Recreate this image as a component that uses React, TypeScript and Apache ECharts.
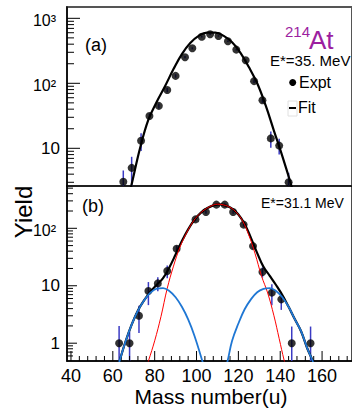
import React, { useEffect, useRef } from "react";
import * as echarts from "echarts";

const FONT = "'Liberation Sans', Arial, Helvetica, sans-serif";

// ---- axes ----
const xMin = 38.1;
const xMax = 174.3;
const xLabelValues = [40, 60, 80, 100, 120, 140, 160];
const xMajorTicks = [40, 60, 80, 100, 120, 140, 160];
const xMinorTicks = [44, 48, 52, 56, 64, 68, 72, 76, 84, 88, 92, 96, 104, 108, 112, 116, 124, 128, 132, 136, 144, 148, 152, 156, 164, 168, 172];

const yMinA = 2.63;
const yMaxA = 1493;
const yLabelsA = [10, 100, 1000];
const yMinorA = [3, 4, 5, 6, 7, 8, 9, 20, 30, 40, 50, 60, 70, 80, 90, 200, 300, 400, 500, 600, 700, 800, 900];

const yMinB = 0.49;
const yMaxB = 545;
const yLabelsB = [1, 10, 100];
const yMinorB = [0.6, 0.7, 0.8, 0.9, 2, 3, 4, 5, 6, 7, 8, 9, 20, 30, 40, 50, 60, 70, 80, 90, 200, 300, 400, 500];

// ---- panel (a) : E*=35 MeV ----
const massA = [65, 69, 73.5, 77.5, 82, 86, 90, 94.5, 98, 102.5, 106.5, 110.5, 115, 119, 123.5, 127.5, 131.5, 135.5, 139.5, 144];
const yieldA = [3.06, 5.0, 13.1, 31.4, 45, 79, 130, 252, 346, 520, 568, 535, 443, 330, 227, 108, 55, 14.2, 11, 3.0];
const errA = [1.5, 2.4, 4, 3, 4, 6, 8, 10, 12, 15, 14, 13, 12, 10, 8, 7, 5, 4, 3, 1.2];
const fitAx = [67.5, 69, 73, 77, 81, 85, 89, 93, 97, 101, 105, 109, 113, 117, 121, 125, 129, 133, 137, 141, 145, 146.5];
const fitAy = [1.8, 2.8, 10, 27.5, 52, 91, 166, 282, 417, 537, 603, 603, 537, 427, 295, 178, 100, 46, 18.6, 7.6, 2.9, 1.9];

// ---- panel (b) : E*=31.1 MeV ----
const massB = [63, 68, 72.5, 77, 81.5, 86, 90.5, 99.5, 104.5, 109.5, 113.5, 117.5, 122.5, 127, 131.5, 136, 140.5, 145.5, 154.5];
const yieldB = [1, 1, 3, 8.1, 11, 18, 44, 143, 192, 258, 258, 192, 116, 49, 17.4, 7.6, 5.8, 1, 1];
const errB = [1.0, 0.6, 1.5, 3.5, 3, 4.5, 6, 10, 12, 14, 14, 12, 9, 5, 3.5, 3, 2, 0.95, 0.95];

const totalBx = [62.5, 63.3, 66, 69, 72, 75, 78, 81, 84, 87, 90, 93, 96, 99, 102, 105, 108, 111, 114, 117, 120, 123, 126, 129, 132, 135, 138, 141, 144, 147, 150, 153, 155.4, 156.3];
const totalBy = [0.39, 0.5, 1.05, 2.1, 3.7, 5.6, 7.9, 10.4, 13.6, 20.8, 35, 60, 96, 141, 186, 223, 251, 261, 248, 220, 174, 119, 68, 37, 21.3, 14.9, 10.3, 6.9, 4.3, 2.6, 1.6, 0.8, 0.5, 0.38];

const symBx = [76.2, 77.1, 80, 83, 86, 89, 92, 95, 98, 101, 104, 107, 110, 113, 116, 119, 122, 125, 128, 131, 134, 137, 139.5, 141.9, 142.8];
const symBy = [0.4, 0.5, 1.1, 2.9, 9, 22, 46, 80, 125, 172, 212, 245, 263, 255, 232, 190, 135, 76, 36, 15, 7.5, 3, 1.2, 0.5, 0.4];

const asymLx = [62.5, 63.3, 66, 69, 72, 75, 78, 81, 84, 87, 90, 93, 96, 99, 102.7, 103.5];
const asymLy = [0.39, 0.5, 1.05, 2.1, 3.7, 5.6, 7.6, 8.9, 9.1, 8.1, 6.3, 4.3, 2.6, 1.35, 0.5, 0.39];

const asymRx = [114, 114.9, 117, 120, 123, 126, 129, 132, 135, 138, 141, 144, 147, 150, 153, 155.4, 156.3];
const asymRy = [0.38, 0.5, 1.1, 2.2, 3.9, 5.8, 7.7, 8.8, 9.1, 8.1, 6.3, 4.3, 2.6, 1.6, 0.8, 0.5, 0.38];

const zip = (xs: number[], ys: number[]) => xs.map((x, i) => [x, ys[i]]);

const SUP: Record<string, string> = { "2": "\u00b2", "3": "\u00b3" };
const logLabel = (v: number) => {
  if (v === 1) return "{p|1}";
  if (v === 10) return "{p|10}";
  const e = String(Math.round(Math.log10(v)));
  return "{e|10" + (SUP[e] || e) + "}";
};

const richY = {
  p: { fontSize: 17, fontFamily: FONT, color: "#000" },
  e: { fontSize: 16, fontFamily: FONT, color: "#000", padding: [4, 4, 0, 0] },
};

function yTickSeries(axisIdx: number, values: number[], len: number) {
  return {
    type: "custom",
    xAxisIndex: axisIdx,
    yAxisIndex: axisIdx,
    silent: true,
    z: 5,
    data: values.map((v) => [xMin, v]),
    renderItem: (params: any, api: any) => {
      const p = api.coord([xMin, api.value(1)]);
      return {
        type: "line",
        shape: { x1: p[0], y1: p[1], x2: p[0] + len, y2: p[1] },
        style: { stroke: "#000", lineWidth: 1 },
      };
    },
  };
}

function xTickSeries(axisIdx: number, values: number[], yBase: number, len: number) {
  return {
    type: "custom",
    xAxisIndex: axisIdx,
    yAxisIndex: axisIdx,
    silent: true,
    z: 5,
    data: values.map((v) => [v, yBase]),
    renderItem: (params: any, api: any) => {
      const p = api.coord([api.value(0), yBase]);
      return {
        type: "line",
        shape: { x1: p[0], y1: p[1], x2: p[0], y2: p[1] - len },
        style: { stroke: "#000", lineWidth: 1 },
      };
    },
  };
}

function errSeries(axisIdx: number, xs: number[], ys: number[], es: number[], yFloor: number) {
  return {
    type: "custom",
    xAxisIndex: axisIdx,
    yAxisIndex: axisIdx,
    silent: true,
    z: 2,
    data: xs.map((x, i) => [x, ys[i], es[i]]),
    renderItem: (params: any, api: any) => {
      const x = api.value(0);
      const y = api.value(1);
      const e = api.value(2);
      const lo = Math.max(y - e, yFloor);
      const p1 = api.coord([x, lo]);
      const p2 = api.coord([x, y + e]);
      return {
        type: "line",
        shape: { x1: p1[0], y1: p1[1], x2: p2[0], y2: p2[1] },
        style: { stroke: "#3b3bc4", lineWidth: 1.5 },
      };
    },
  };
}

function curve(axisIdx: number, xs: number[], ys: number[], color: string, width: number, z: number) {
  return {
    type: "line",
    xAxisIndex: axisIdx,
    yAxisIndex: axisIdx,
    data: zip(xs, ys),
    showSymbol: false,
    smooth: 0.4,
    clip: true,
    z,
    lineStyle: { color, width },
  };
}

export default function App() {
  const ref = useRef<HTMLDivElement>(null);
  useEffect(() => {
    if (!ref.current) return;
    const chart = echarts.init(ref.current, undefined, { renderer: "svg" });
    const option: any = {
      animation: false,
      backgroundColor: "#fff",
      textStyle: { fontFamily: FONT },
      grid: [
        { left: 67, top: 7, width: 286, height: 179, show: true, borderColor: "#555", borderWidth: 2, backgroundColor: "transparent" },
        { left: 67, top: 186, width: 286, height: 175, show: true, borderColor: "#111", borderWidth: 1.5, backgroundColor: "transparent" },
      ],
      xAxis: [
        {
          gridIndex: 0, type: "value", min: xMin, max: xMax,
          axisLine: { show: false }, axisTick: { show: false }, axisLabel: { show: false }, splitLine: { show: false },
        },
        {
          gridIndex: 1, type: "value", min: xMin, max: xMax,
          axisLine: { show: true, lineStyle: { color: "#000", width: 1.5 } },
          axisTick: { show: false },
          splitLine: { show: false },
          axisLabel: { customValues: xLabelValues, fontSize: 18, lineHeight: 16, color: "#000", fontFamily: FONT, margin: 7 },
        },
      ],
      yAxis: [
        {
          gridIndex: 0, type: "log", min: yMinA, max: yMaxA, logBase: 10,
          axisLine: { show: true, lineStyle: { color: "#000", width: 1.5 } },
          axisTick: { show: false }, splitLine: { show: false }, minorTick: { show: false },
          axisLabel: { customValues: yLabelsA, formatter: logLabel, rich: richY, margin: 7 },
        },
        {
          gridIndex: 1, type: "log", min: yMinB, max: yMaxB, logBase: 10,
          axisLine: { show: true, lineStyle: { color: "#000", width: 1.5 } },
          axisTick: { show: false }, splitLine: { show: false }, minorTick: { show: false },
          axisLabel: { customValues: yLabelsB, formatter: logLabel, rich: richY, margin: 7 },
        },
      ],
      series: [
        errSeries(0, massA, yieldA, errA, yMinA),
        {
          type: "scatter", xAxisIndex: 0, yAxisIndex: 0, data: zip(massA, yieldA),
          symbol: "circle", symbolSize: 8, itemStyle: { color: "#000" }, z: 3,
        },
        curve(0, fitAx, fitAy, "#000", 2.2, 4),
        yTickSeries(0, yLabelsA, 13),
        yTickSeries(0, yMinorA, 7),

        errSeries(1, massB, yieldB, errB, yMinB),
        {
          type: "scatter", xAxisIndex: 1, yAxisIndex: 1, data: zip(massB, yieldB),
          symbol: "circle", symbolSize: 8, itemStyle: { color: "#000" }, z: 3,
        },
        curve(1, totalBx, totalBy, "#000", 2.2, 4),
        curve(1, symBx, symBy, "#ff0000", 1, 5),
        curve(1, asymLx, asymLy, "#1f77d4", 1.8, 6),
        curve(1, asymRx, asymRy, "#1f77d4", 1.8, 6),
        yTickSeries(1, yLabelsB, 10),
        yTickSeries(1, yMinorB, 6),
        xTickSeries(1, xMajorTicks, yMinB, 10),
        xTickSeries(1, xMinorTicks, yMinB, 5),
      ],
      graphic: [
        { type: "text", x: 85, y: 45, z: 10, style: { text: "(a)", fontSize: 18, fontFamily: FONT, fill: "#000", textAlign: "left", textVerticalAlign: "middle" } },
        { type: "text", x: 285, y: 31, z: 10, style: { text: "214", fontSize: 15, fontFamily: FONT, fill: "#9c1fa0", textAlign: "left", textVerticalAlign: "middle" } },
        { type: "text", x: 309, y: 39.5, z: 10, style: { text: "At", fontSize: 26, fontFamily: FONT, fill: "#9c1fa0", textAlign: "left", textVerticalAlign: "middle" } },
        { type: "text", x: 270, y: 60.5, z: 10, style: { text: "E*=35. MeV", fontSize: 15, fontFamily: FONT, fill: "#000", textAlign: "left", textVerticalAlign: "middle" } },
        { type: "circle", z: 10, shape: { cx: 292.7, cy: 82.5, r: 3.5 }, style: { fill: "#000" } },
        { type: "text", x: 299, y: 82.5, z: 10, style: { text: "Expt", fontSize: 16, fontFamily: FONT, fill: "#000", textAlign: "left", textVerticalAlign: "middle" } },
        { type: "rect", z: 10, shape: { x: 288, y: 101, width: 9, height: 15 }, style: { fill: "none", stroke: "#e0e0e0", lineWidth: 1 } },
        { type: "line", z: 11, shape: { x1: 289, y1: 108, x2: 296, y2: 108 }, style: { stroke: "#000", lineWidth: 2 } },
        { type: "text", x: 298, y: 107.5, z: 10, style: { text: "Fit", fontSize: 16, fontFamily: FONT, fill: "#000", textAlign: "left", textVerticalAlign: "middle" } },
        { type: "text", x: 82, y: 205.5, z: 10, style: { text: "(b)", fontSize: 18, fontFamily: FONT, fill: "#000", textAlign: "left", textVerticalAlign: "middle" } },
        { type: "text", x: 261, y: 203, z: 10, style: { text: "E*=31.1 MeV", fontSize: 14, fontFamily: FONT, fill: "#000", textAlign: "left", textVerticalAlign: "middle" } },
        { type: "text", x: 23, y: 212, rotation: Math.PI / 2, z: 10, style: { text: "Yield", fontSize: 24, fontFamily: FONT, fill: "#000", textAlign: "center", textVerticalAlign: "middle" } },
        { type: "text", x: 211, y: 396, z: 10, style: { text: "Mass number(u)", fontSize: 21, fontFamily: FONT, fill: "#000", textAlign: "center", textVerticalAlign: "middle" } },
      ],
    };
    chart.setOption(option);
    return () => chart.dispose();
  }, []);
  return <div ref={ref} style={{ position: "fixed", left: 0, top: 0, width: 352, height: 410 }} />;
}
